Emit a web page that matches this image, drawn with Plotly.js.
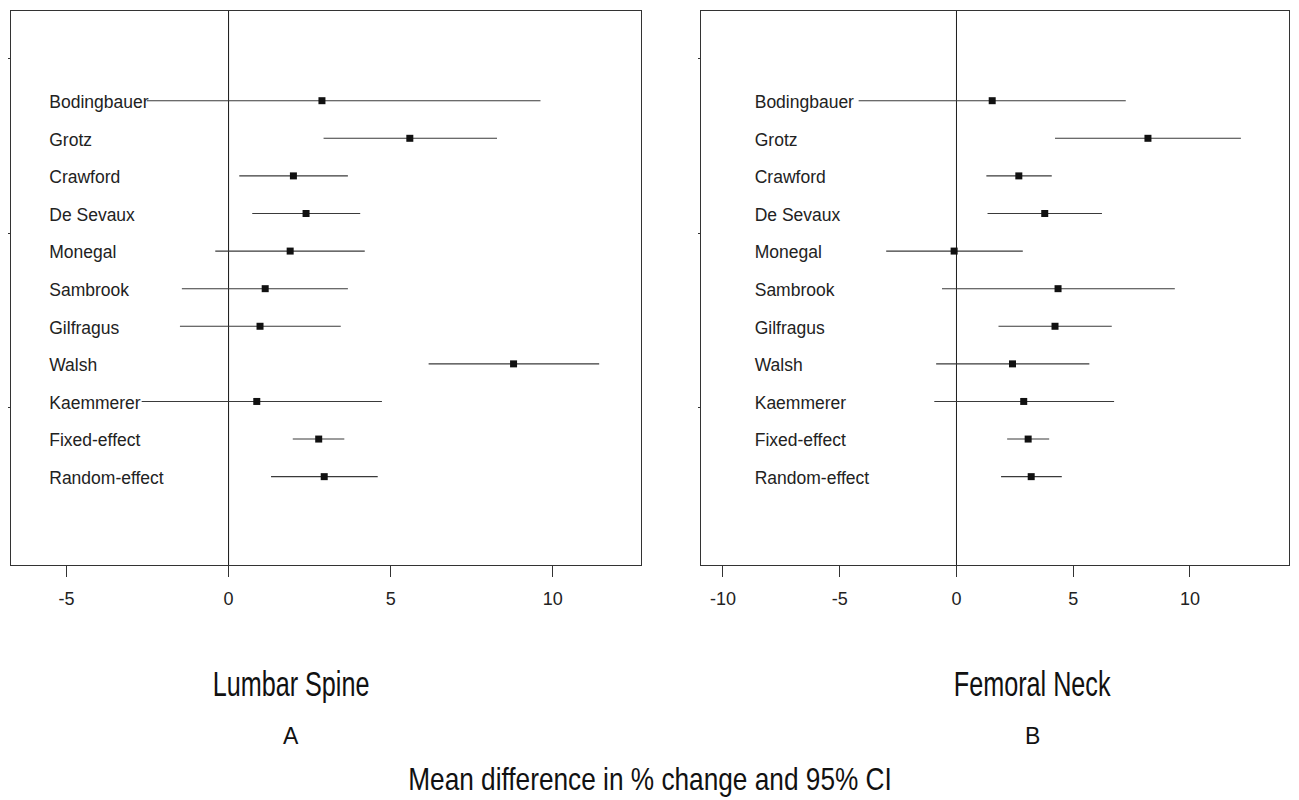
<!DOCTYPE html>
<html>
<head>
<meta charset="utf-8">
<script src="https://cdn.plot.ly/plotly-3.0.1.min.js"></script>
<style>html,body{margin:0;padding:0;background:#fff;}#chart{width:1299px;height:800px;}</style>
</head>
<body>
<div id="chart"></div>
<script>
// ---- data ----
const studies = ["Bodingbauer","Grotz","Crawford","De Sevaux","Monegal","Sambrook","Gilfragus","Walsh","Kaemmerer","Fixed-effect","Random-effect"];

// Panel A: Lumbar Spine
const spineEst   = [2.88, 5.59, 2.00, 2.39, 1.90, 1.13, 0.97, 8.79, 0.87, 2.78, 2.95];
const spineLower = [-2.52, 2.93, 0.33, 0.73, -0.41, -1.44, -1.50, 6.17, -2.68, 1.98, 1.31];
const spineUpper = [9.62, 8.28, 3.68, 4.06, 4.20, 3.68, 3.46, 11.43, 4.73, 3.57, 4.60];

// Panel B: Femoral Neck
const neckEst   = [1.53, 8.20, 2.67, 3.78, -0.10, 4.35, 4.22, 2.40, 2.88, 3.07, 3.20];
const neckLower = [-4.19, 4.22, 1.28, 1.33, -3.01, -0.62, 1.80, -0.87, -0.95, 2.17, 1.91];
const neckUpper = [7.25, 12.18, 4.08, 6.23, 2.84, 9.35, 6.65, 5.69, 6.75, 3.97, 4.51];

const spineTicks = [-5, 0, 5, 10];
const neckTicks  = [-10, -5, 0, 5, 10];

const panelTitles = ["Lumbar Spine", "Femoral Neck"];
const panelLetters = ["A", "B"];
const commonXTitle = "Mean difference in % change and 95% CI";

// ---- build ----
const rows = studies.map((_, i) => i + 1);
const W = 1299, H = 800;
const px = v => v / W, py = v => 1 - v / H;
const SANS = "Liberation Sans, Arial, sans-serif";

function panel(est, lo, hi, labelX, xa, ya) {
  const labels = {
    type: "scatter", mode: "text", x: rows.map(() => labelX), y: rows.map(r => r + 0.08),
    text: studies, textposition: "middle right",
    textfont: {family: SANS, size: 17.5, color: "#222"},
    xaxis: xa, yaxis: ya, hoverinfo: "skip", showlegend: false, cliponaxis: false
  };
  const bars = {
    type: "scatter", mode: "markers", x: est, y: rows,
    error_x: {type: "data", symmetric: false,
      array: hi.map((h, i) => h - est[i]), arrayminus: lo.map((l, i) => est[i] - l),
      width: 0, thickness: 1.1, color: "#3a3a3a"},
    marker: {symbol: "square", size: 7, color: "#111"},
    xaxis: xa, yaxis: ya, showlegend: false
  };
  return [labels, bars];
}

const data = [
  ...panel(spineEst, spineLower, spineUpper, -5.53, "x", "y"),
  ...panel(neckEst, neckLower, neckUpper, -8.64, "x2", "y2")
];

const yTickRows = [-0.11, 4.545, 9.17];
const axisFont = {family: SANS, size: 18, color: "#222"};
const yBase = {
  domain: [py(565), py(11)], range: [13.35, -1.386], showgrid: false, zeroline: false,
  showline: true, mirror: true, linecolor: "#333", linewidth: 1,
  tickmode: "array", tickvals: yTickRows, ticktext: yTickRows.map(() => ""),
  ticks: "outside", ticklen: 2, tickcolor: "#333"
};
const xBase = {
  showgrid: false, zeroline: true, zerolinecolor: "#222", zerolinewidth: 1,
  showline: true, mirror: true, linecolor: "#333", linewidth: 1,
  ticks: "outside", ticklen: 11, tickcolor: "#333", tickfont: axisFont,
  ticklabelstandoff: 6, tickmode: "array"
};

const ann = (text, x, y, family, size) => ({text, xref: "paper", yref: "paper", x: px(x), y: py(y),
  xanchor: "center", yanchor: "middle", showarrow: false, font: {family, size, color: "#111"}});

const layout = {
  width: W, height: H, margin: {l: 0, r: 0, t: 0, b: 0},
  paper_bgcolor: "#fff", plot_bgcolor: "#fff", showlegend: false,
  xaxis: Object.assign({}, xBase, {domain: [px(11), px(641)], range: [-6.71, 12.72], anchor: "y",
    tickvals: spineTicks, ticktext: spineTicks.map(String)}),
  yaxis: Object.assign({}, yBase, {anchor: "x"}),
  xaxis2: Object.assign({}, xBase, {domain: [px(701), px(1289)], range: [-10.94, 14.24], anchor: "y2",
    tickvals: neckTicks, ticktext: neckTicks.map(String)}),
  yaxis2: Object.assign({}, yBase, {anchor: "x2"}),
  shapes: [
    {type: "line", xref: "x", yref: "y domain", x0: 0, x1: 0, y0: 0, y1: 1, line: {color: "#222", width: 1}, layer: "below"},
    {type: "line", xref: "x2", yref: "y2 domain", x0: 0, x1: 0, y0: 0, y1: 1, line: {color: "#222", width: 1}, layer: "below"}
  ],
  annotations: [
    ann(panelTitles[0], 291, 683, SANS, 36),
    ann(panelTitles[1], 1032, 683, SANS, 36),
    ann(panelLetters[0], 291, 736, SANS, 23),
    ann(panelLetters[1], 1032, 736, SANS, 23),
    ann(commonXTitle, 650, 779, SANS, 32)
  ]
};

// horizontal condensing of the large titles (the reference uses a narrow face)
const squeeze = {"Lumbar Spine": 0.70, "Femoral Neck": 0.70};
squeeze[commonXTitle] = 0.82;

Plotly.newPlot("chart", data, layout, {displayModeBar: false, staticPlot: true}).then(() => {
  document.querySelectorAll("#chart text.annotation-text").forEach(el => {
    const s = squeeze[el.textContent];
    if (!s) return;
    const b = el.getBBox();
    const cx = b.x + b.width / 2;
    const prev = el.getAttribute("transform") || "";
    el.setAttribute("transform", `${prev} translate(${cx},0) scale(${s},1) translate(${-cx},0)`);
  });
});
</script>
</body>
</html>
